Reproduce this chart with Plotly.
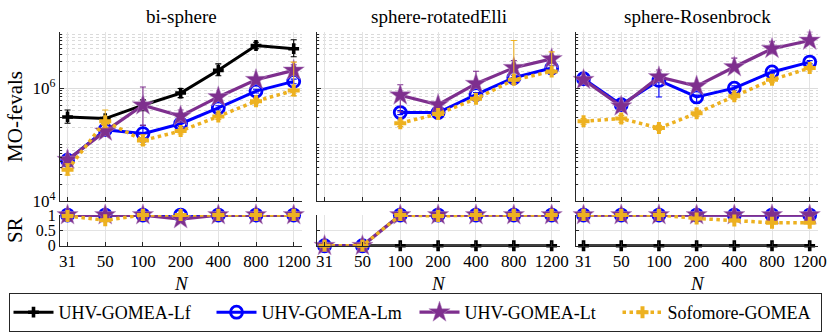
import plotly.graph_objects as go

W, H = 830, 332

N_labels = ["31", "50", "100", "200", "400", "800", "1200"]
problems = ["bi-sphere", "sphere-rotatedElli", "sphere-Rosenbrock"]
series_names = ["UHV-GOMEA-Lf", "UHV-GOMEA-Lm", "UHV-GOMEA-Lt", "Sofomore-GOMEA"]

# ---- MO-fevals (median) ----
lf_bi = [3.1e5, 2.9e5, 5.0e5, 8.2e5, 2.07e6, 5.7e6, 5.0e6]
lm_bi = [5.3e4, 1.84e5, 1.57e5, 2.35e5, 4.5e5, 8.9e5, 1.32e6]
lt_bi = [5.4e4, 1.72e5, 5.0e5, 3.2e5, 7.0e5, 1.41e6, 2.07e6]
so_bi = [3.6e4, 2.6e5, 1.19e5, 1.74e5, 3.17e5, 5.9e5, 9.1e5]

lf_re = [None] * 7
lm_re = [None, None, 3.7e5, 3.7e5, 7.7e5, 1.53e6, 2.28e6]
lt_re = [None, None, 7.5e5, 5.1e5, 1.2e6, 2.3e6, 3.3e6]
so_re = [None, None, 2.4e5, 3.5e5, 6.5e5, 1.41e6, 1.98e6]

lf_rb = [None] * 7
lm_rb = [1.47e6, 5.1e5, 1.37e6, 7.0e5, 1.0e6, 1.94e6, 2.9e6]
lt_rb = [1.41e6, 4.8e5, 1.58e6, 1.09e6, 2.37e6, 5.0e6, 7.0e6]
so_rb = [2.6e5, 2.9e5, 1.97e5, 3.6e5, 7.2e5, 1.41e6, 2.28e6]

# ---- error bar bounds (low / high) ----
lf_bi_lo = [2.4e5, 2.7e5, 4.0e5, 6.8e5, 1.66e6, 5.0e6, 3.6e6]
lf_bi_hi = [4.1e5, 3.1e5, 6.2e5, 9.9e5, 2.7e6, 6.5e6, 7.2e6]
lm_bi_lo = [4.8e4, 1.5e5, 1.12e5, 2.1e5, 4.1e5, 8.2e5, 1.2e6]
lm_bi_hi = [5.8e4, 2.2e5, 2.2e5, 2.6e5, 4.9e5, 9.6e5, 1.45e6]
lt_bi_lo = [4.9e4, 1.5e5, 2.2e5, 2.5e5, 6.3e5, 1.3e6, 1.8e6]
lt_bi_hi = [5.9e4, 2.0e5, 1.05e6, 4.1e5, 7.8e5, 1.55e6, 2.6e6]
so_bi_lo = [2.9e4, 2.0e5, 1.0e5, 1.55e5, 2.8e5, 5.3e5, 7.4e5]
so_bi_hi = [4.6e4, 4.1e5, 1.5e5, 1.95e5, 3.6e5, 6.6e5, 2.9e6]

lf_re_lo = [None] * 7
lf_re_hi = [None] * 7
lm_re_lo = [None, None, 3.4e5, 3.4e5, 7.0e5, 1.4e6, 2.1e6]
lm_re_hi = [None, None, 4.0e5, 4.0e5, 8.4e5, 1.7e6, 2.5e6]
lt_re_lo = [None, None, 3.8e5, 4.5e5, 1.0e6, 2.0e6, 2.9e6]
lt_re_hi = [None, None, 1.15e6, 5.8e5, 2.0e6, 3.1e6, 3.8e6]
so_re_lo = [None, None, 2.1e5, 3.2e5, 6.0e5, 1.2e6, 1.8e6]
so_re_hi = [None, None, 2.7e5, 3.8e5, 7.0e5, 7.0e6, 4.4e6]

lf_rb_lo = [None] * 7
lf_rb_hi = [None] * 7
lm_rb_lo = [1.3e6, 4.5e5, 7.0e5, 5.4e5, 9.2e5, 1.8e6, 2.7e6]
lm_rb_hi = [1.6e6, 5.6e5, 1.6e6, 7.6e5, 1.1e6, 2.1e6, 3.1e6]
lt_rb_lo = [1.3e6, 4.3e5, 1.3e6, 9.5e5, 2.1e6, 4.1e6, 6.3e6]
lt_rb_hi = [1.55e6, 5.3e5, 2.1e6, 1.25e6, 3.4e6, 6.6e6, 1.0e7]
so_rb_lo = [2.3e5, 2.5e5, 1.8e5, 3.2e5, 6.4e5, 1.25e6, 2.1e6]
so_rb_hi = [2.9e5, 3.3e5, 2.2e5, 4.1e5, 8.1e5, 1.6e6, 2.5e6]

# ---- success rate ----
sr_lf_bi = [1, 1, 1, 1, 1, 1, 1]
sr_lm_bi = [1, 1, 1, 1, 1, 1, 1]
sr_lt_bi = [1, 1, 1, 0.87, 1, 1, 1]
sr_so_bi = [0.97, 0.83, 1, 1, 1, 1, 1]

sr_lf_re = [0, 0, 0, 0, 0, 0, 0]
sr_lm_re = [0, 0, 1, 1, 1, 1, 1]
sr_lt_re = [0, 0, 1, 1, 1, 1, 1]
sr_so_re = [0, 0, 1, 0.97, 1, 1, 1]

sr_lf_rb = [0, 0, 0, 0, 0, 0, 0]
sr_lm_rb = [1, 1, 1, 1, 1, 1, 1]
sr_lt_rb = [1, 1, 1, 1, 1, 1, 1]
sr_so_rb = [1, 1, 1, 0.89, 0.82, 0.75, 0.75]

fevals = [
    [lf_bi, lm_bi, lt_bi, so_bi],
    [lf_re, lm_re, lt_re, so_re],
    [lf_rb, lm_rb, lt_rb, so_rb],
]
err_lo = [
    [lf_bi_lo, lm_bi_lo, lt_bi_lo, so_bi_lo],
    [lf_re_lo, lm_re_lo, lt_re_lo, so_re_lo],
    [lf_rb_lo, lm_rb_lo, lt_rb_lo, so_rb_lo],
]
err_hi = [
    [lf_bi_hi, lm_bi_hi, lt_bi_hi, so_bi_hi],
    [lf_re_hi, lm_re_hi, lt_re_hi, so_re_hi],
    [lf_rb_hi, lm_rb_hi, lt_rb_hi, so_rb_hi],
]
sr = [
    [sr_lf_bi, sr_lm_bi, sr_lt_bi, sr_so_bi],
    [sr_lf_re, sr_lm_re, sr_lt_re, sr_so_re],
    [sr_lf_rb, sr_lm_rb, sr_lt_rb, sr_so_rb],
]

# ---- styles ----
colors = ["#000000", "#0000FF", "#7E2F8E", "#EDB120"]
dashes = ["solid", "solid", "solid", "dot"]
line_w = [3, 3, 3.2, 3.5]
markers = [
    dict(symbol="cross", size=9, color="#000000"),
    dict(symbol="circle-open", size=12, color="#0000FF", line=dict(width=2.8, color="#0000FF")),
    dict(symbol="star", size=16, color="#7E2F8E", line=dict(width=0.5, color="#B58AC0")),
    dict(symbol="cross", size=10, color="#EDB120"),
]

FONT = "Liberation Serif"
AX = "#262626"

# pixel layout
px_x = [(60, 302), (317, 560), (576, 818)]
top_y = (32, 203)
sr_y = (217, 248)


def fx(a, b):
    return [a / W, b / W]


def fy(top, bottom):
    return [(H - bottom) / H, (H - top) / H]


fig = go.Figure()

for p in range(3):
    xa_top = "x" if p == 0 else f"x{p + 1}"
    ya_top = "y" if p == 0 else f"y{p + 1}"
    xa_sr = f"x{p + 4}"
    ya_sr = f"y{p + 4}"
    for s in range(4):
        vals = fevals[p][s]
        lo = err_lo[p][s]
        hi = err_hi[p][s]
        up = [(h - v) if (v is not None and h is not None) else None for v, h in zip(vals, hi)]
        dn = [(v - l) if (v is not None and l is not None) else None for v, l in zip(vals, lo)]
        fig.add_trace(go.Scatter(
            x=N_labels, y=vals, xaxis=xa_top, yaxis=ya_top,
            mode="lines+markers", name=series_names[s], legendgroup=series_names[s],
            showlegend=(p == 0),
            line=dict(color=colors[s], width=line_w[s], dash=dashes[s]),
            marker=markers[s],
            error_y=dict(type="data", symmetric=False, array=up, arrayminus=dn,
                         color=colors[s], thickness=1.1, width=3),
            cliponaxis=False,
        ))
    for s in range(4):
        fig.add_trace(go.Scatter(
            x=N_labels, y=sr[p][s], xaxis=xa_sr, yaxis=ya_sr,
            mode="lines+markers", name=series_names[s], legendgroup=series_names[s],
            showlegend=False,
            line=dict(color=colors[s], width=line_w[s], dash=dashes[s]),
            marker=markers[s],
            cliponaxis=False,
        ))

layout = dict(
    width=W, height=H,
    margin=dict(l=0, r=0, t=0, b=0),
    paper_bgcolor="white", plot_bgcolor="white",
    font=dict(family=FONT, size=17, color="#000000"),
    showlegend=True,
    legend=dict(
        orientation="h", x=0.5, xanchor="center", y=(H - 296) / H, yanchor="top",
        bordercolor=AX, borderwidth=1, bgcolor="white",
        font=dict(family=FONT, size=18, color="#000000"),
        entrywidth=148, itemwidth=40, tracegroupgap=0,
    ),
)

minor_vals = []
for dec in [1e4, 1e5, 1e6]:
    for k in range(2, 10):
        minor_vals.append(k * dec)
minor_vals.append(1e5)

for p in range(3):
    sfx_top = "" if p == 0 else str(p + 1)
    sfx_sr = str(p + 4)
    xdom = fx(*px_x[p])
    common_x = dict(
        type="category", range=[-0.2, 6.22], domain=xdom,
        showgrid=True, gridcolor="#E3E3E3", gridwidth=1,
        showline=True, linecolor=AX, linewidth=1.2,
        ticks="inside", ticklen=4, tickcolor=AX,
        zeroline=False, fixedrange=True, automargin=False,
    )
    layout["xaxis" + sfx_top] = dict(common_x, anchor="y" + sfx_top, showticklabels=False)
    layout["xaxis" + sfx_sr] = dict(common_x, anchor="y" + sfx_sr, showticklabels=True,
                                     tickfont=dict(family=FONT, size=17, color="#000000"))
    layout["yaxis" + sfx_top] = dict(
        type="log", range=[4, 7], domain=fy(*top_y), anchor="x" + sfx_top,
        tickvals=[1e4, 1e6], ticktext=["10<sup>4</sup>", "10<sup>6</sup>"],
        showticklabels=(p == 0),
        tickfont=dict(family=FONT, size=17, color="#000000"),
        showgrid=True, gridcolor="#DCDCDC", gridwidth=1,
        showline=True, linecolor=AX, linewidth=1.2,
        ticks="inside", ticklen=4, tickcolor=AX,
        minor=dict(tickvals=minor_vals, showgrid=True, gridcolor="#DADADA",
                   griddash="dot", gridwidth=1, ticks="inside", ticklen=2, tickcolor=AX),
        zeroline=False, fixedrange=True, automargin=False,
    )
    layout["yaxis" + sfx_sr] = dict(
        range=[0, 1], domain=fy(*sr_y), anchor="x" + sfx_sr,
        tickvals=[0, 0.5, 1], ticktext=["0", "0.5", "1"],
        showticklabels=(p == 0),
        tickfont=dict(family=FONT, size=16, color="#000000"),
        showgrid=True, gridcolor="#E3E3E3", gridwidth=1,
        showline=True, linecolor=AX, linewidth=1.2,
        ticks="inside", ticklen=3, tickcolor=AX,
        zeroline=False, fixedrange=True, automargin=False,
    )

annotations = []
for p in range(3):
    cx = (px_x[p][0] + px_x[p][1]) / 2 / W
    annotations.append(dict(text=problems[p], x=cx, y=(H - 17) / H, xref="paper", yref="paper",
                            showarrow=False, font=dict(family=FONT, size=19, color="#000000"),
                            xanchor="center", yanchor="middle"))
    annotations.append(dict(text="<i>N</i>", x=cx, y=(H - 286) / H, xref="paper", yref="paper",
                            showarrow=False, font=dict(family=FONT, size=19, color="#000000"),
                            xanchor="center", yanchor="middle"))
annotations.append(dict(text="MO-fevals", x=15 / W, y=(H - 118) / H, xref="paper", yref="paper",
                        showarrow=False, textangle=-90,
                        font=dict(family=FONT, size=21, color="#000000"),
                        xanchor="center", yanchor="middle"))
annotations.append(dict(text="SR", x=15 / W, y=(H - 232) / H, xref="paper", yref="paper",
                        showarrow=False, textangle=-90,
                        font=dict(family=FONT, size=21, color="#000000"),
                        xanchor="center", yanchor="middle"))
layout["annotations"] = annotations

fig.update_layout(**layout)
fig.write_html(
    "out.html",
    config={"displayModeBar": False},
    post_script="document.body.style.margin='0';document.body.style.padding='0';document.body.style.overflow='hidden';",
)
